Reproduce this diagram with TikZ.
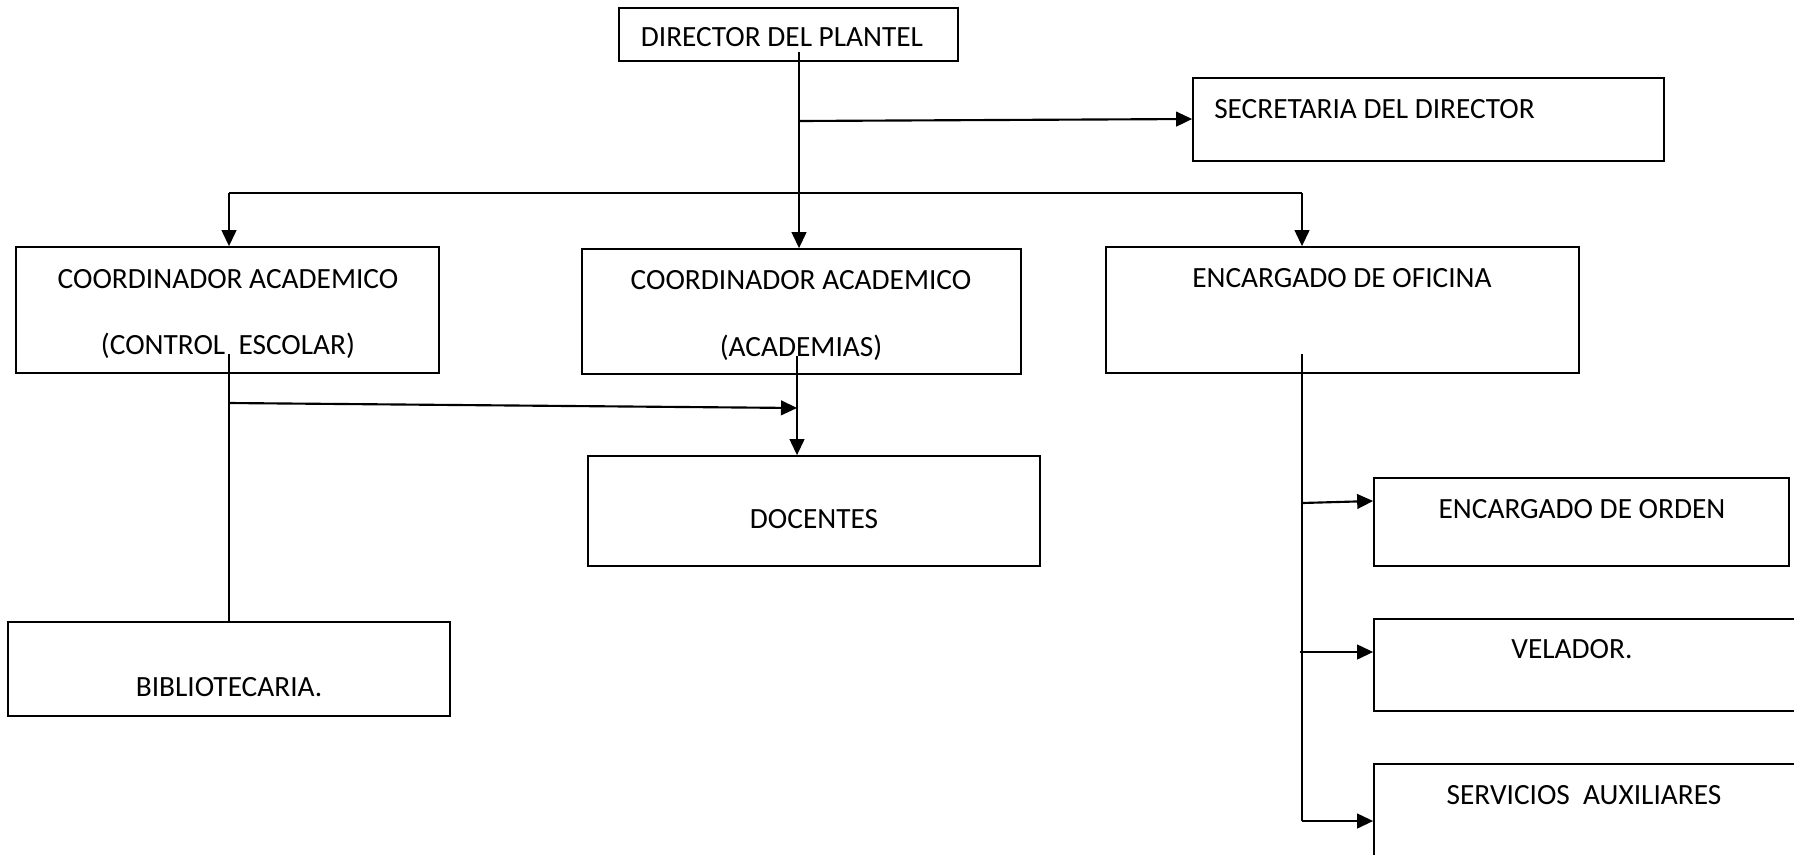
\documentclass[tikz,border=0pt]{standalone}
\usepackage{fontspec}
\setmainfont{Carlito}
\usetikzlibrary{arrows.meta,calc}
\begin{document}
\begin{tikzpicture}[x=0.75pt,y=-0.75pt,
  orgbox/.style={draw, line width=1.3pt, inner sep=0pt},
  lbl/.style={inner sep=0pt, anchor=base, font=\fontsize{22}{26}\selectfont},
  conn/.style={line width=1.6pt},
  arr/.style={conn, -{Triangle[length=12pt,width=11pt]}}]
\useasboundingbox (0,0) rectangle (1794,854);
\clip (0,0) rectangle (1794,854);
% boxes
\node[orgbox, minimum width=339*0.75pt, minimum height=53*0.75pt] (dir) at (788.5,34.5) {};
\node[orgbox, minimum width=471*0.75pt, minimum height=83*0.75pt] (sec) at (1428.5,119.5) {};
\node[orgbox, minimum width=423*0.75pt, minimum height=126*0.75pt] (cce) at (227.5,310) {};
\node[orgbox, minimum width=439*0.75pt, minimum height=125*0.75pt] (cca) at (801.5,311.5) {};
\node[orgbox, minimum width=473*0.75pt, minimum height=126*0.75pt] (ofi) at (1342.5,310) {};
\node[orgbox, minimum width=452*0.75pt, minimum height=110*0.75pt] (doc) at (814,511) {};
\node[orgbox, minimum width=442*0.75pt, minimum height=94*0.75pt] (bib) at (229,669) {};
\node[orgbox, minimum width=415*0.75pt, minimum height=88*0.75pt] (ord) at (1581.5,522) {};
\node[orgbox, minimum width=436*0.75pt, minimum height=92*0.75pt] (vel) at (1592,665) {};
\node[orgbox, minimum width=436*0.75pt, minimum height=106*0.75pt] (ser) at (1592,817) {};
% texts
\node[lbl] (tdir) at (782,46) {DIRECTOR DEL PLANTEL};
\node[lbl, anchor=base west] (tsec) at (1214,118) {SECRETARIA DEL DIRECTOR};
\node[lbl] (tcce1) at (228,288) {COORDINADOR ACADEMICO};
\node[lbl] (tcce2) at (228,354) {(CONTROL\ \ ESCOLAR)};
\node[lbl] (tcca1) at (801,289) {COORDINADOR ACADEMICO};
\node[lbl] (tcca2) at (801,356) {(ACADEMIAS)};
\node[lbl] (tofi) at (1342,287) {ENCARGADO DE OFICINA};
\node[lbl] (tdoc) at (814,528) {DOCENTES};
\node[lbl] (tbib) at (229,696) {BIBLIOTECARIA.};
\node[lbl] (tord) at (1582,518) {ENCARGADO DE ORDEN};
\node[lbl] (tvel) at (1572,658) {VELADOR.};
\node[lbl] (tser) at (1584,804) {SERVICIOS\ \ AUXILIARES};
% connector coordinates
\coordinate (d0) at (799,52);
\coordinate (d1) at (799,121);
\coordinate (busl) at (229,193);
\coordinate (busr) at (1302,193);
\coordinate (c0) at (229,354);
\coordinate (c1) at (229,403);
\coordinate (a0) at (797,356);
\coordinate (a1) at (797,408);
\coordinate (o0) at (1302,354);
\coordinate (o1) at (1302,503);
\coordinate (o2) at (1300,652);
\coordinate (o3) at (1302,821);
% connectors
\draw[arr] (d0) -- (d0 |- cca.north);
\draw[arr] (d1) -- (sec.west |- 0,119);
\draw[conn] (busl) -- (busr);
\draw[arr] (busl) -- (busl |- cce.north);
\draw[arr] (busr) -- (busr |- ofi.north);
\draw[conn] (c0) -- (c0 |- bib.north);
\draw[arr] (c1) -- (a1);
\draw[arr] (a0) -- (a0 |- doc.north);
\draw[conn] (o0) -- (o3);
\draw[arr] (o1) -- (ord.west |- 0,501);
\draw[arr] (o2) -- (vel.west |- 0,652);
\draw[arr] (o3) -- (ser.west |- 0,821);
\end{tikzpicture}
\end{document}
